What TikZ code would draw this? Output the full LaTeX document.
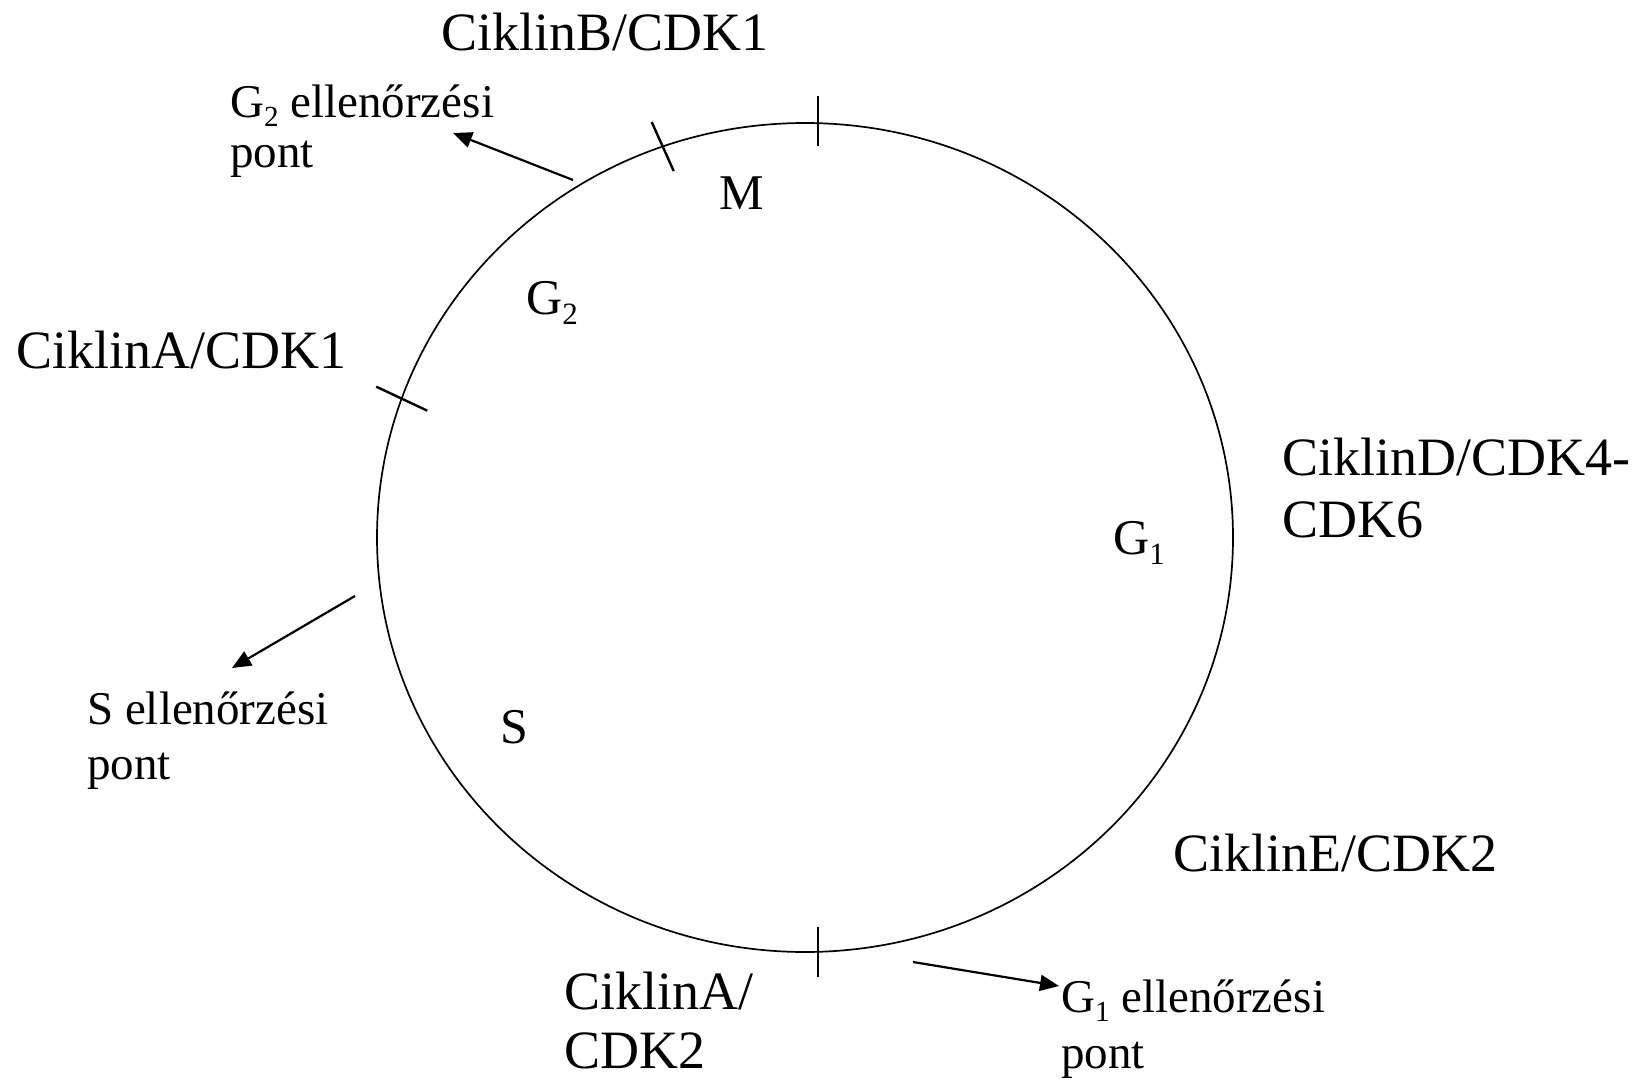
\documentclass[tikz,border=0pt]{standalone}
\usepackage{fontspec}
\usepackage{graphicx}
\setmainfont{Liberation Serif}
\usetikzlibrary{shapes.geometric,arrows.meta,calc}
\newcommand{\lowsub}[1]{\raisebox{-0.2em}{\scalebox{0.62}{#1}}}
\tikzset{
  cyctext/.style={font=\fontsize{54}{62}\selectfont, inner sep=0pt, anchor=base west},
  phasetext/.style={font=\fontsize{50}{58}\selectfont, inner sep=0pt, anchor=base west},
  chktext/.style={font=\fontsize{47}{55}\selectfont, inner sep=0pt, anchor=base west},
  tickmark/.style={line width=2.4pt},
  ptr/.style={line width=2.2pt, -{Triangle[length=19pt,width=16pt]}},
}
\begin{document}
\begin{tikzpicture}[x=1pt,y=-1pt]
\useasboundingbox (0,0) rectangle (1639,1084);
\fill[white] (0,0) rectangle (1639,1084);
% cycle
\node[ellipse, draw, line width=1.7pt, inner sep=0pt, outer sep=0pt,
      minimum width=856pt, minimum height=829pt] (cyc) at (805,537.5) {};
% tick positions on the cycle
\coordinate (ttop) at (818,123.3);
\coordinate (tbot) at (818,951.7);
% ticks
\draw[tickmark] ($(ttop)+(0,-27)$) -- ($(ttop)+(0,23)$);
\draw[tickmark] ($(tbot)+(0,-25)$) -- ($(tbot)+(0,25)$);
\draw[tickmark] ($(cyc.110.4)+(-11,-24.5)$) -- ($(cyc.110.4)+(11,24.5)$);
\draw[tickmark] ($(cyc.161)+(-25.5,-12)$) -- ($(cyc.161)+(25.5,12)$);
% texts
\node[cyctext] (cB) at (441,50) {CiklinB/CDK1};
\node[chktext] (g2c1) at (230,117) {G\lowsub{2} ellenőrzési};
\node[chktext] (g2c2) at (230,167) {pont};
\node[cyctext] (cA1) at (16,368) {CiklinA/CDK1};
\node[cyctext] (cD1) at (1282,475) {CiklinD/CDK4-};
\node[cyctext] (cD2) at (1282,537) {CDK6};
\node[phasetext] (pG1) at (1113,554) {G\lowsub{1}};
\node[chktext] (sc1) at (87,724) {S ellenőrzési};
\node[chktext] (sc2) at (87,779) {pont};
\node[phasetext] (pS) at (500,743) {S};
\node[phasetext] (pG2) at (526,314) {G\lowsub{2}};
\node[phasetext] (pM) at (719,209) {M};
\node[cyctext] (cE) at (1173,871) {CiklinE/CDK2};
\node[cyctext] (cA2a) at (564,1009) {CiklinA/};
\node[cyctext] (cA2b) at (564,1068) {CDK2};
\node[chktext] (g1c1) at (1061,1012) {G\lowsub{1} ellenőrzési};
\node[chktext] (g1c2) at (1061,1068) {pont};
% arrows
\coordinate (a1s) at (573,180); \coordinate (a1e) at (453,133);
\coordinate (a2s) at (355,596); \coordinate (a2e) at (232,668);
\coordinate (a3s) at (913,962); \coordinate (a3e) at (1059,986);
\draw[ptr] (a1s) -- (a1e);
\draw[ptr] (a2s) -- (a2e);
\draw[ptr] (a3s) -- (a3e);
\end{tikzpicture}
\end{document}
